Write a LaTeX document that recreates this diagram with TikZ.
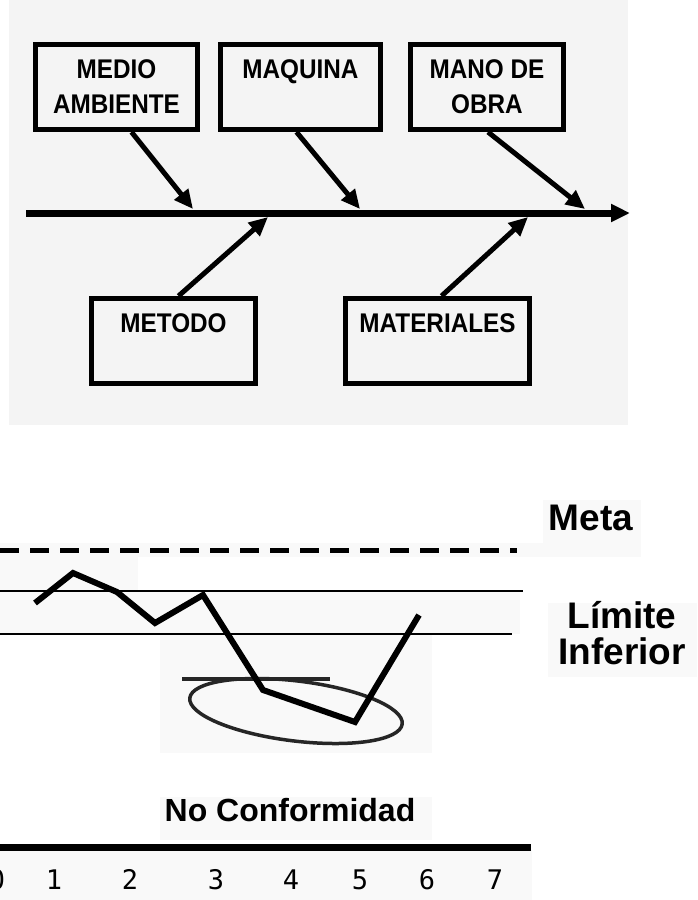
\documentclass[tikz,border=0pt]{standalone}
\usepackage{fontspec}
\setmainfont{Liberation Sans}
\newfontfamily\estrecha[FakeStretch=0.9]{Liberation Sans}
\newfontfamily\cifras{DejaVu Sans Mono}
\usetikzlibrary{arrows.meta}
\begin{document}
\begin{tikzpicture}[x=1pt,y=-1pt,>={Triangle[length=19pt,width=17pt]},
		caja/.style={draw,line width=5pt,minimum width=#1,minimum height=85pt,inner sep=0pt,align=center,font=\estrecha\bfseries\fontsize{27}{35}\selectfont},
		rama/.style={->,line width=5pt},
		rotulo/.style={anchor=base,font=\bfseries\fontsize{37}{40}\selectfont},
		fondo/.style={fill=gray!5,draw=none}]
	\useasboundingbox (0,0) rectangle (697,900);
	% diagrama de espina
	\fill[gray!9] (9,0) rectangle (628,425);
	\node[caja=162pt] (medio) at (116.5,87) {MEDIO\\AMBIENTE};
	\node[caja=160pt] (maquina) at (300.5,87) {MAQUINA\\\mbox{}};
	\node[caja=153pt] (manoobra) at (487,87) {MANO DE\\OBRA};
	\node[caja=164pt] (metodo) at (173.5,341) {METODO\\\mbox{}};
	\node[caja=184pt] (materiales) at (437.5,341) {MATERIALES\\\mbox{}};
	\coordinate (cola) at (26,213);
	\coordinate (cabeza) at (630,213);
	\draw[->,line width=7pt] (cola) -- (cabeza);
	\coordinate (e1) at (193,209);
	\coordinate (e2) at (360,209);
	\coordinate (e3) at (585,209);
	\coordinate (e4) at (268,217);
	\coordinate (e5) at (528,217);
	\draw[rama] ([xshift=15pt]medio.south) -- (e1);
	\draw[rama] ([xshift=-4pt]maquina.south) -- (e2);
	\draw[rama] ([xshift=1pt]manoobra.south) -- (e3);
	\draw[rama] ([xshift=5pt]metodo.north) -- (e4);
	\draw[rama] ([xshift=4pt]materiales.north) -- (e5);
	% grafico de control
	\fill[fondo] (0,543) rectangle (641,557);
	\fill[fondo] (0,557) rectangle (138,592);
	\fill[fondo] (0,592) rectangle (520,634);
	\fill[fondo] (160,634) rectangle (432,753);
	\fill[fondo] (543,500) rectangle (641,543);
	\fill[fondo] (548,603) rectangle (697,677);
	\fill[fondo] (160,797) rectangle (432,840);
	\fill[fondo] (0,850) rectangle (532,900);
	\draw[line width=5pt,dash pattern=on 19pt off 11pt] (0,550) -- (517,550);
	\draw[line width=2.5pt] (0,591) -- (523,591);
	\draw[line width=2.5pt] (0,634) -- (512,634);
	\draw[line width=3.5pt,black!85] (182,679) -- (330,679);
	\draw[line width=3.5pt,black!85,rotate around={-7:(296,711)}] (296,711) ellipse [x radius=107pt,y radius=30pt];
	\draw[line width=6pt] (35,603) -- (73,573) -- (117,592) -- (155,623) -- (203,595) -- (263,690) -- (355,722) -- (419,615);
	\node[rotulo] (meta) at (591,530) {Meta};
	\node[rotulo] (limite) at (622,628) {Límite};
	\node[rotulo] (inferior) at (622,664) {Inferior};
	\node[rotulo,font=\bfseries\fontsize{32}{34}\selectfont] (noconf) at (290,821) {No Conformidad};
	\draw[line width=7pt] (0,847) -- (531,847);
	\foreach \n/\x in {0/-3,1/54,2/130,3/216,4/291,5/360,6/427,7/495}{
		\node[anchor=base,font=\cifras\fontsize{27}{27}\selectfont] at (\x,889) {\n};%eje
	}
\end{tikzpicture}
\end{document}
